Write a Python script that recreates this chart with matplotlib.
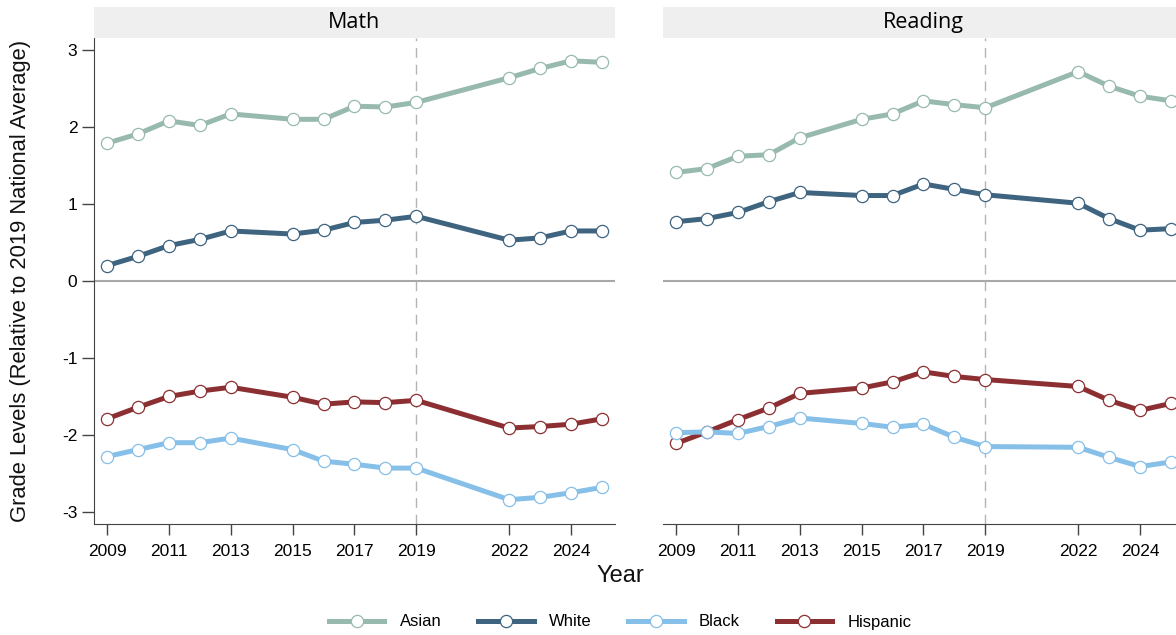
import matplotlib
matplotlib.use("Agg")
import matplotlib.pyplot as plt
from matplotlib.lines import Line2D

plt.rcParams['axes.unicode_minus'] = False

years = [2009, 2010, 2011, 2012, 2013, 2015, 2016, 2017, 2018, 2019, 2022, 2023, 2024, 2025]
xticks = [2009, 2011, 2013, 2015, 2017, 2019, 2022, 2024]
yticks = [-3, -2, -1, 0, 1, 2, 3]
groups = ["Asian", "White", "Black", "Hispanic"]
colors = {"Asian": "#97b9ae", "White": "#3e6480", "Black": "#86bfe8", "Hispanic": "#8c2f32"}

math_asian = [1.79, 1.91, 2.08, 2.02, 2.17, 2.10, 2.10, 2.27, 2.26, 2.32, 2.64, 2.76, 2.86, 2.84]
math_white = [0.20, 0.32, 0.46, 0.54, 0.65, 0.61, 0.66, 0.76, 0.79, 0.84, 0.53, 0.56, 0.65, 0.65]
math_black = [-2.28, -2.19, -2.10, -2.10, -2.04, -2.19, -2.34, -2.38, -2.43, -2.43, -2.84, -2.81, -2.75, -2.68]
math_hispanic = [-1.79, -1.64, -1.50, -1.43, -1.38, -1.51, -1.60, -1.57, -1.58, -1.55, -1.91, -1.89, -1.86, -1.79]

read_asian = [1.41, 1.46, 1.62, 1.64, 1.86, 2.10, 2.17, 2.34, 2.29, 2.25, 2.72, 2.53, 2.40, 2.34]
read_white = [0.77, 0.81, 0.89, 1.03, 1.15, 1.11, 1.11, 1.26, 1.19, 1.12, 1.01, 0.81, 0.66, 0.68]
read_black = [-1.97, -1.96, -1.98, -1.89, -1.78, -1.85, -1.90, -1.86, -2.03, -2.15, -2.16, -2.29, -2.41, -2.35]
read_hispanic = [-2.11, -1.96, -1.80, -1.65, -1.46, -1.39, -1.31, -1.18, -1.24, -1.28, -1.37, -1.55, -1.68, -1.59]

panels = {
    "Math": {"Asian": math_asian, "White": math_white, "Black": math_black, "Hispanic": math_hispanic},
    "Reading": {"Asian": read_asian, "White": read_white, "Black": read_black, "Hispanic": read_hispanic},
}

NARROW = ['Liberation Sans Narrow', 'Liberation Sans', 'DejaVu Sans']
REG = ['Liberation Sans', 'DejaVu Sans']
STRIP = ['Open Sans', 'DejaVu Sans']

W, H = 1176, 635
fig = plt.figure(figsize=(W / 100, H / 100), dpi=100)

ax_left_px = [94, 663]
ax_w_px = 521
ax_top_px, ax_bot_px = 37.7, 524.3
strip_top_px = 7.0

zorders = {"Asian": 3, "White": 4, "Hispanic": 5, "Black": 6}

for i, (name, data) in enumerate(panels.items()):
    l = ax_left_px[i] / W
    ax = fig.add_axes([l, 1 - ax_bot_px / H, ax_w_px / W, (ax_bot_px - ax_top_px) / H])
    ax.set_xlim(2008.58, 2025.42)
    ax.set_ylim(-3.16, 3.16)
    ax.axhline(0, color="#a8a8a8", lw=1.5, zorder=1)
    ax.axvline(2019, color="#b4b4b4", lw=1.0, ls=(0, (7, 5)), zorder=1)
    for g in groups:
        ax.plot(years, data[g], color=colors[g], lw=3.6, marker="o", ms=8.8,
                mfc="white", mec=colors[g], mew=0.9, zorder=zorders[g],
                solid_capstyle="butt")
    ax.set_xticks(xticks)
    ax.set_xticklabels([str(t) for t in xticks], fontsize=12.5, family=NARROW)
    ax.tick_params(axis="x", length=8, width=1, color="#444444", pad=6)
    for s in ["top", "right"]:
        ax.spines[s].set_visible(False)
    ax.spines["bottom"].set_color("#444444")
    ax.spines["left"].set_color("#444444")
    if i == 0:
        ax.set_yticks(yticks)
        ax.set_yticklabels([str(t) for t in yticks], fontsize=12.5, family=NARROW)
        ax.tick_params(axis="y", length=9, width=1, color="#444444", pad=3)
    else:
        ax.set_yticks([])
        ax.spines["left"].set_visible(False)
    # strip
    sax = fig.add_axes([l, 1 - ax_top_px / H, ax_w_px / W, (ax_top_px - strip_top_px) / H])
    sax.set_facecolor("#efefef")
    sax.set_xticks([])
    sax.set_yticks([])
    for s in sax.spines.values():
        s.set_visible(False)
    sax.text(0.5, 0.5, name, ha="center", va="center", fontsize=15.5, family=STRIP,
             transform=sax.transAxes, color="#000000")

fig.text(21 / W, 1 - 281 / H, "Grade Levels (Relative to 2019 National Average)",
         rotation=90, ha="center", va="center", fontsize=15.8, family=NARROW, color="#111111")
fig.text(620 / W, 1 - 576 / H, "Year", ha="center", va="center", fontsize=17,
         family=NARROW, color="#111111")

handles = [Line2D([0], [0], color=colors[g], lw=3.6, marker="o", ms=8.8, mfc="white",
                  mec=colors[g], mew=0.9) for g in groups]
leg = fig.legend(handles, groups, loc="center", bbox_to_anchor=(620 / W, 1 - 622 / H),
                 ncol=4, frameon=False, prop={"family": REG, "size": 12},
                 handlelength=3.35, handletextpad=0.9, columnspacing=2.2, numpoints=1)

fig.savefig("out.png", dpi=100)
